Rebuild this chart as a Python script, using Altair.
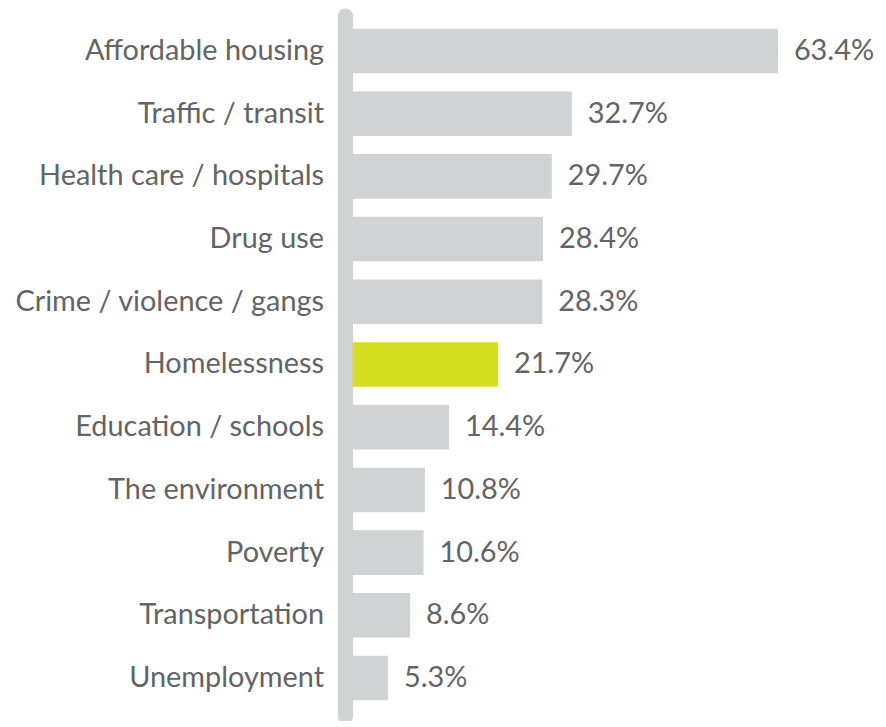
import altair as alt
import pandas as pd

categories = ["Affordable housing", "Traffic / transit", "Health care / hospitals", "Drug use",
              "Crime / violence / gangs", "Homelessness", "Education / schools", "The environment",
              "Poverty", "Transportation", "Unemployment"]
values = [63.4, 32.7, 29.7, 28.4, 28.3, 21.7, 14.4, 10.8, 10.6, 8.6, 5.3]
highlight = ["Homelessness"]

df = pd.DataFrame({
    "category": categories,
    "value": values,
    "label": [f"{v:.1f}%" for v in values],
    "hl": ["yes" if c in highlight else "no" for c in categories],
})

FONT = "Lato"
TEXT = "#636466"
GRAY = "#d1d2d4"
LIME = "#d5df22"
FS = 29

y = alt.Y("category:N", sort=categories, title=None,
          scale=alt.Scale(paddingInner=0.29, paddingOuter=0.145),
          axis=alt.Axis(ticks=False, domain=False, labelFontSize=FS, labelFont=FONT,
                        labelColor=TEXT, labelPadding=29, labelLimit=400))
x = alt.X("value:Q", title=None, scale=alt.Scale(domain=[0, 70]), axis=None)

bars = alt.Chart(df).mark_bar().encode(
    x=x, y=y,
    color=alt.Color("hl:N", scale=alt.Scale(domain=["no", "yes"], range=[GRAY, LIME]), legend=None),
)
text = alt.Chart(df).mark_text(align="left", baseline="middle", dx=16, fontSize=FS,
                               font=FONT, color=TEXT).encode(x=x, y=y, text="label:N")
line = alt.Chart(df).mark_rule(strokeWidth=14, strokeCap="round", color=GRAY).encode(
    x=alt.value(-7), y=alt.value(-4), y2=alt.value(700))

chart = alt.layer(line, bars, text).properties(
    width=472, height=693,
    autosize=alt.AutoSizeParams(type="none"),
    padding={"left": 346, "top": 10, "right": 56, "bottom": 10},
).configure_view(stroke=None)

chart.save("out.html", embed_options={"renderer": "svg", "actions": False})
